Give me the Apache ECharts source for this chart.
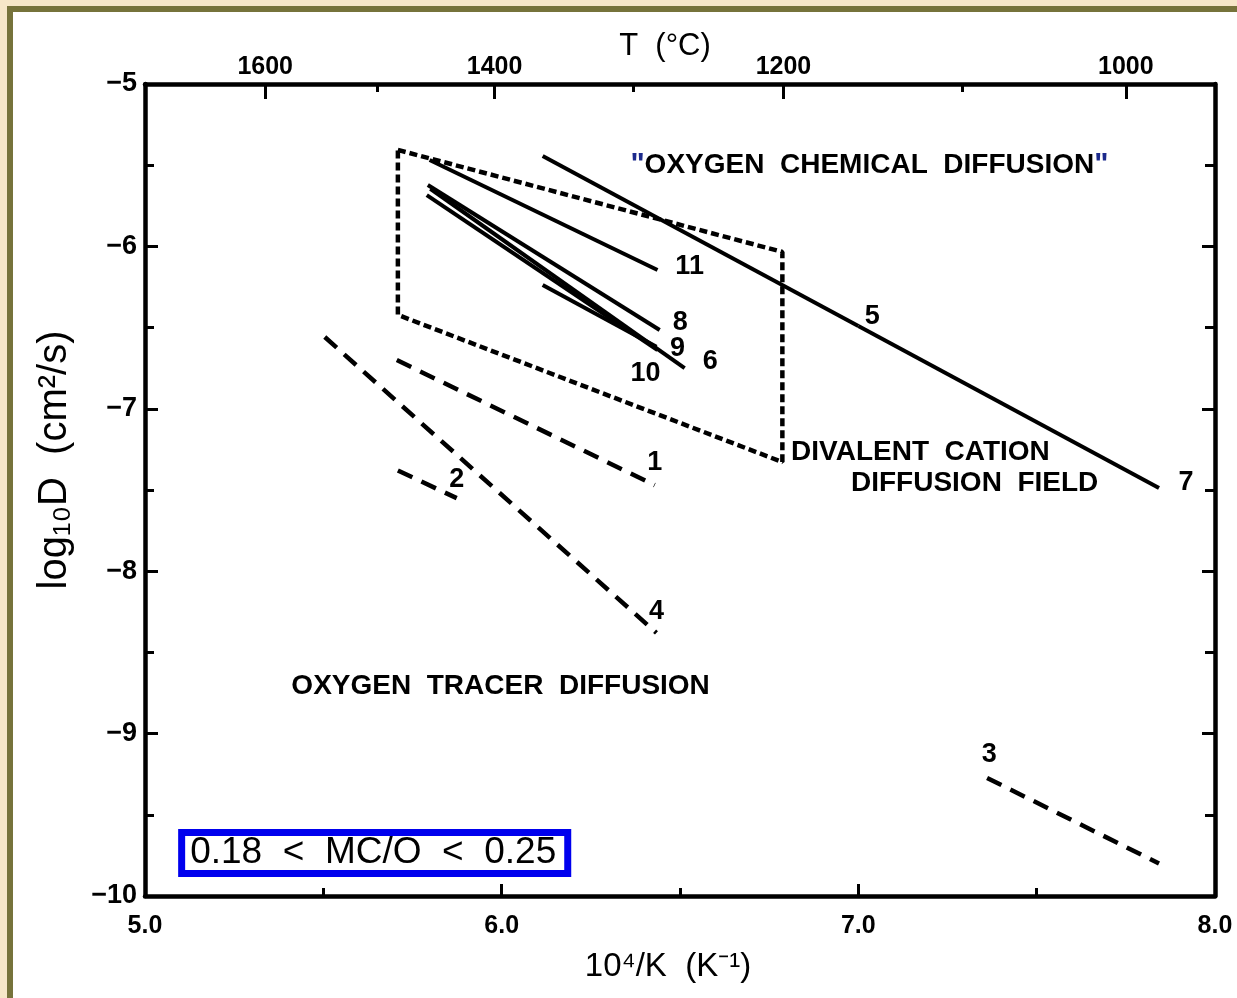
<!DOCTYPE html>
<html>
<head>
<meta charset="utf-8">
<title>log10D vs 10^4/K</title>
<script src="https://cdn.jsdelivr.net/npm/echarts@6/dist/echarts.min.js"></script>
<style>
  html, body { margin: 0; padding: 0; }
  #outer { position: absolute; left: 0; top: 0; width: 1237px; height: 998px; background: #f6e7c8; }
  #paper { position: absolute; left: 7px; top: 6px; right: 0; bottom: 0; background: #ffffff;
           border-left: 6px solid #76733b; border-top: 6px solid #76733b; }
  #chart { position: absolute; left: 0; top: 0; width: 1237px; height: 998px; }
</style>
</head>
<body>
<div id="outer"><div id="paper"></div></div>
<div id="chart"></div>
<script>
// Arrhenius segments: [10^4/K, log10 D]
const curve1 = [[5.706, -6.70], [6.429, -7.47]];
const curve2 = [[5.709, -7.38], [5.874, -7.55]];
const curve3 = [[7.361, -9.273], [7.843, -9.80]];
const curve4 = [[5.504, -6.558], [6.434, -8.38]];
const curve5 = [[6.115, -5.443], [7.000, -6.490]];
const curve7 = [[7.000, -6.490], [7.843, -7.488]];
const curve6 = [[5.800, -5.645], [6.513, -6.749]];
const curve8 = [[5.793, -5.622], [6.443, -6.515]];
const curve9 = [[5.790, -5.684], [6.437, -6.638]];
const curve10 = [[6.115, -6.238], [6.434, -6.618]];
const curve11 = [[5.798, -5.468], [6.437, -6.145]];

// outline of the divalent cation diffusion field
const cationField = [[5.709, -5.406], [6.787, -6.034], [6.787, -7.328], [5.709, -6.422], [5.709, -5.406]];

// curve numbers and where they sit
const curveNames = ['1', '2', '3', '4', '5', '6', '7', '8', '9', '10', '11'];
const curveNameX = [6.429, 5.874, 7.367, 6.434, 7.039, 6.585, 7.919, 6.501, 6.493, 6.403, 6.527];
const curveNameY = [-7.328, -7.438, -9.132, -8.251, -6.429, -6.712, -7.457, -6.466, -6.626, -6.786, -6.127];

// temperature scale on the top axis (°C) and its tick positions in 10^4/K
const tempLabels = ['1600', '1400', '1200', '1000'];
const tempMajorPos = [5.337, 5.98, 6.79, 7.75];
const tempMinorPos = [5.65, 6.37, 7.29];

const FONT = 'Liberation Sans, Arial, sans-serif';
const tickLabel = { fontFamily: FONT, fontSize: 25, fontWeight: 'bold', color: '#000' };
const axisLineStyle = { color: '#000', width: 4.5 };
const hidden = { color: 'rgba(0,0,0,0)', opacity: 1 };

function seg(data, dashed, dash) {
  return {
    type: 'line', data: data, symbol: 'none', silent: true, animation: false,
    xAxisIndex: 0, yAxisIndex: 0,
    lineStyle: { color: '#000', width: dashed ? 4.5 : 4, type: dashed ? dash : 'solid' }
  };
}

const longDash = [16, 10];
const boxDash = [8, 4];

const series = [
  seg(curve1, true, longDash),
  seg(curve2, true, longDash),
  seg(curve3, true, longDash),
  seg(curve4, true, longDash),
  seg(curve5, false),
  seg(curve7, false),
  seg(curve6, false),
  seg(curve8, false),
  seg(curve9, false),
  seg(curve10, false),
  seg(curve11, false),
  seg(cationField, true, boxDash),
  {
    type: 'scatter', silent: true, animation: false, symbolSize: 1, itemStyle: hidden,
    data: curveNames.map((n, i) => ({ name: n, value: [curveNameX[i], curveNameY[i]] })),
    label: { show: true, position: 'inside', formatter: '{b}', fontFamily: FONT, fontSize: 27,
             fontWeight: 'bold', color: '#000' }
  },
  {
    type: 'scatter', silent: true, animation: false, symbolSize: 1, itemStyle: hidden,
    data: [
      { name: 'chem', value: [7.031, -5.499],
        label: { formatter: '{q|"}OXYGEN  CHEMICAL  DIFFUSION{q|"}', align: 'center' } },
      { name: 'div1', value: [6.81, -7.266],
        label: { formatter: 'DIVALENT  CATION', align: 'left', position: 'right', distance: 0 } },
      { name: 'div2', value: [6.978, -7.457],
        label: { formatter: 'DIFFUSION  FIELD', align: 'left', position: 'right', distance: 0 } },
      { name: 'tracer', value: [5.997, -8.707],
        label: { formatter: 'OXYGEN  TRACER  DIFFUSION', align: 'center' } }
    ],
    label: {
      show: true, position: 'inside', fontFamily: FONT, fontSize: 28, fontWeight: 'bold', color: '#000',
      rich: { q: { fontFamily: FONT, fontSize: 30, color: '#1c2a8c', fontWeight: 'bold' } }
    }
  },
  {
    type: 'scatter', silent: true, animation: false, symbolSize: 1, itemStyle: hidden,
    data: [{ name: 'ratio', value: [5.644, -9.735] }],
    label: {
      show: true, position: 'inside', formatter: '0.18  <  MC/O  <  0.25',
      fontFamily: FONT, fontSize: 37, lineHeight: 33, color: '#000',
      borderColor: '#0000ee', borderWidth: 7, backgroundColor: '#fff',
      padding: [1, 8, 0, 5]
    }
  }
];

const option = {
  backgroundColor: 'transparent',
  animation: false,
  grid: { left: 145, right: 22, top: 84, bottom: 102, containLabel: false },
  xAxis: [
    {
      type: 'value', position: 'bottom', min: 5, max: 8, interval: 1,
      axisLine: { show: true, lineStyle: axisLineStyle },
      axisTick: { show: true, inside: true, length: 12, lineStyle: { color: '#000', width: 3 } },
      minorTick: { show: true, splitNumber: 2, length: 8, lineStyle: { color: '#000', width: 3 } },
      splitLine: { show: false },
      axisLabel: Object.assign({ margin: 18, formatter: v => v.toFixed(1) }, tickLabel),
      name: '10\u2074/K  (K\u207B\u00B9)', nameLocation: 'middle', nameGap: 54,
      nameTextStyle: { fontFamily: FONT, fontSize: 33, color: '#000', padding: [0, 24, 0, 0] }
    },
    {
      type: 'value', position: 'top', min: 5, max: 8,
      axisLine: { show: true, lineStyle: axisLineStyle },
      axisTick: { show: true, inside: true, length: 15, customValues: tempMajorPos,
                  lineStyle: { color: '#000', width: 3 } },
      splitLine: { show: false },
      axisLabel: Object.assign({
        margin: 4, customValues: tempMajorPos,
        formatter: v => {
          const i = tempMajorPos.findIndex(p => Math.abs(p - v) < 1e-6);
          return i >= 0 ? tempLabels[i] : '';
        }
      }, tickLabel),
      name: 'T  (°C)', nameLocation: 'middle', nameGap: 22, nameMoveOverlap: false,
      nameTextStyle: { fontFamily: FONT, fontSize: 31, color: '#000', padding: [0, 30, 0, 0] }
    },
    {
      type: 'value', position: 'top', min: 5, max: 8,
      axisLine: { show: false },
      axisTick: { show: true, inside: true, length: 8, customValues: tempMinorPos,
                  lineStyle: { color: '#000', width: 3 } },
      splitLine: { show: false },
      axisLabel: { show: false }
    }
  ],
  yAxis: [
    {
      type: 'value', position: 'left', min: -10, max: -5, interval: 1,
      axisLine: { show: true, lineStyle: axisLineStyle },
      axisTick: { show: true, inside: true, length: 13, lineStyle: { color: '#000', width: 3 } },
      minorTick: { show: true, splitNumber: 2, length: 9, lineStyle: { color: '#000', width: 3 } },
      splitLine: { show: false },
      axisLabel: Object.assign({ margin: 8, formatter: v => String(v).replace('-', '\u2212') },
                               tickLabel, { fontSize: 27 }),
      name: 'log\u2081\u2080D  (cm\u00B2/s)', nameLocation: 'middle', nameGap: 70, nameRotate: 90,
      nameMoveOverlap: false,
      nameTextStyle: { fontFamily: FONT, fontSize: 40, color: '#000', padding: [0, 0, 0, 60] }
    },
    {
      type: 'value', position: 'right', min: -10, max: -5, interval: 1,
      axisLine: { show: true, lineStyle: axisLineStyle },
      axisTick: { show: true, inside: true, length: 13, lineStyle: { color: '#000', width: 3 } },
      minorTick: { show: true, splitNumber: 2, length: 10, lineStyle: { color: '#000', width: 3 } },
      splitLine: { show: false },
      axisLabel: { show: false }
    }
  ],
  series: series
};

const chart = echarts.init(document.getElementById('chart'), null, { renderer: 'canvas' });
chart.setOption(option);
</script>
</body>
</html>
